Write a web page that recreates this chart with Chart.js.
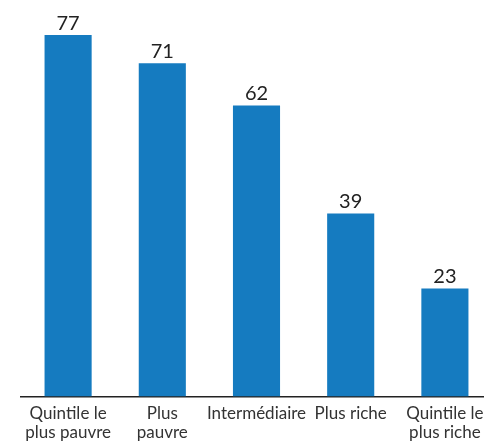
<!DOCTYPE html>
<html>
<head>
<meta charset="utf-8">
<script src="https://cdn.jsdelivr.net/npm/chart.js@4"></script>
<style>
  html, body { margin: 0; padding: 0; background: #fff; overflow: hidden; }
  #wrap { width: 492px; height: 443px; }
</style>
</head>
<body>
<div id="wrap"><canvas id="chart"></canvas></div>
<script>
const categories = [
  ['Quintile le', 'plus pauvre'],
  ['Plus', 'pauvre'],
  'Intermédiaire',
  'Plus riche',
  ['Quintile le', 'plus riche'],
];
const values = [77, 71, 62, 39, 23];

// Print the value above each bar
const valueLabels = {
  id: 'valueLabels',
  afterDatasetsDraw(chart) {
    const ctx = chart.ctx;
    const meta = chart.getDatasetMeta(0);
    ctx.save();
    ctx.font = '20px Lato';
    ctx.fillStyle = '#222';
    ctx.textAlign = 'center';
    ctx.textBaseline = 'bottom';
    meta.data.forEach((bar, i) => {
      ctx.fillText(values[i], bar.x, bar.y - 2);
    });
    ctx.restore();
  },
};

new Chart(document.getElementById('chart'), {
  type: 'bar',
  data: {
    labels: categories,
    datasets: [{
      data: values,
      backgroundColor: '#157bc0',
      categoryPercentage: 1,
      barPercentage: 0.5,
    }],
  },
  options: {
    responsive: true,
    maintainAspectRatio: false,
    animation: false,
    layout: { padding: { top: 21, left: 21, right: 0, bottom: 1 } },
    plugins: {
      legend: { display: false },
      tooltip: { enabled: false },
    },
    scales: {
      x: {
        grid: { display: false },
        border: { display: true, color: '#222', width: 1.5 },
        ticks: {
          color: '#333',
          font: { family: 'Lato', size: 17, lineHeight: 1.1 },
          padding: 0,
          maxRotation: 0,
          autoSkip: false,
        },
      },
      y: {
        display: false,
        min: 0,
        max: 80,
      },
    },
  },
  plugins: [valueLabels],
});
</script>
</body>
</html>
